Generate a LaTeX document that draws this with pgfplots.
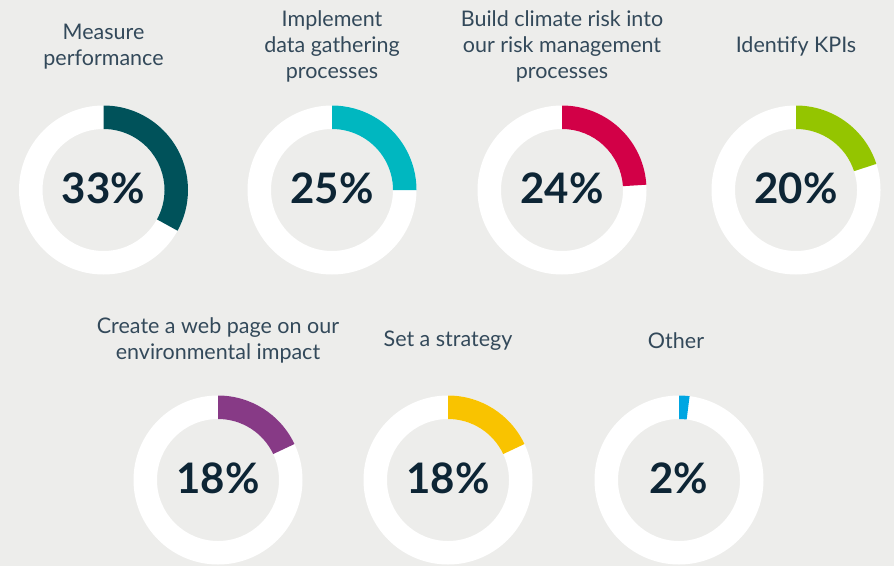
\documentclass[border=0pt]{standalone}
\usepackage{pgfplots}
\pgfplotsset{compat=1.18}
\usepackage{pgfplotstable}
\usepackage{fontspec}
\setmainfont{Lato}
\definecolor{bg}{HTML}{EDEDEB}
\definecolor{d1}{HTML}{00525A}
\definecolor{d2}{HTML}{00B7C0}
\definecolor{d3}{HTML}{D20047}
\definecolor{d4}{HTML}{94C500}
\definecolor{d5}{HTML}{873A86}
\definecolor{d6}{HTML}{F9C300}
\definecolor{d7}{HTML}{00A6E2}
\definecolor{lab}{HTML}{33495A}
\definecolor{pcol}{HTML}{0D2535}
\pgfplotstableread{
x y pct idx
103.5 190 33 1
332 190 25 2
562 190 24 3
796 190 20 4
218 480 18 5
448 480 18 6
679 480 2 7
}\donuts
\pgfdeclareplotmark{donut}{%
  \pgfmathsetmacro\ea{90-3.6*\pct}%
  \pgfmathtruncatemacro\ci{\idx}%
  \pgfsetfillcolor{white}%
  \pgfseteorule
  \pgfpathcircle{\pgfpointorigin}{84.5bp}%
  \pgfpathcircle{\pgfpointorigin}{61bp}%
  \pgfusepath{fill}%
  \pgfsetnonzerorule
  \pgfsetfillcolor{d\ci}%
  \pgfpathmoveto{\pgfpoint{0bp}{84.5bp}}%
  \pgfpatharc{90}{\ea}{84.5bp}%
  \pgfpathlineto{\pgfpointpolar{\ea}{61bp}}%
  \pgfpatharc{\ea}{90}{61bp}%
  \pgfpathclose
  \pgfusepath{fill}%
}
\begin{document}
\begin{tikzpicture}
\fill[bg] (0,0) rectangle (894bp,566bp);
\begin{axis}[
  at={(0,0)}, anchor=south west,
  scale only axis, width=894bp, height=566bp,
  xmin=0, xmax=894, ymin=0, ymax=566, y dir=reverse,
  axis line style={draw=none}, ticks=none,
  clip=false,
]
\addplot[only marks, mark=donut,
  visualization depends on={\thisrow{pct} \as \pct},
  visualization depends on={\thisrow{idx} \as \idx},
] table[x=x, y=y] {\donuts};
\addplot[only marks, mark=none,
  point meta=explicit,
  nodes near coords={\pgfmathprintnumber[assume math mode=true]{\pgfplotspointmeta}\%},
  every node near coord/.append style={anchor=center, yshift=2bp, text=pcol,
     font=\fontsize{42bp}{50bp}\selectfont\bfseries},
] table[x=x, y=y, meta=pct] {\donuts};
\tikzset{lbl/.style={align=center, text=lab, font=\fontsize{21.5bp}{25.7bp}\selectfont, anchor=center}}
\node[lbl] at (axis cs:103.5,46.5) {Measure\\performance};
\node[lbl] at (axis cs:332,46.5) {Implement\\data gathering\\processes};
\node[lbl] at (axis cs:562,46.5) {Build climate risk into\\our risk management\\processes};
\node[lbl] at (axis cs:796,46.5) {Identify KPIs};
\node[lbl] at (axis cs:218,340.5) {Create a web page on our\\environmental impact};
\node[lbl] at (axis cs:448,340.5) {Set a strategy};
\node[lbl] at (axis cs:676,340.5) {Other};
\end{axis}
\pgfresetboundingbox
\path (0,0) rectangle (894bp,566bp);
\end{tikzpicture}
\end{document}
